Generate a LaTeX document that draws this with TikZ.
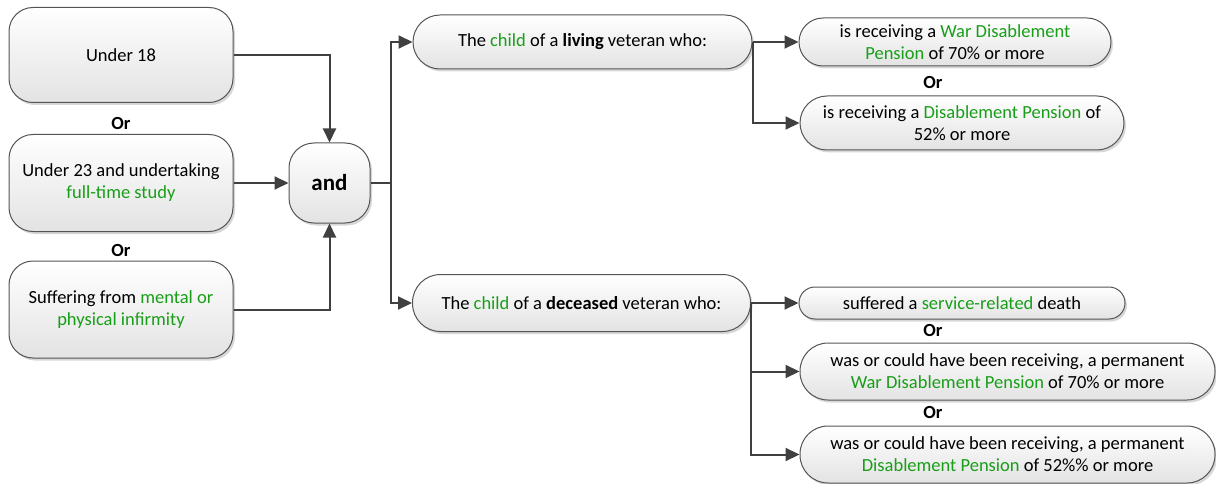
\documentclass[tikz,border=0pt]{standalone}
\usepackage{fontspec}
\setmainfont{Carlito}
\usetikzlibrary{arrows.meta,shadows}
\definecolor{grn}{RGB}{24,158,24}
\definecolor{arrcol}{RGB}{64,64,64}
\definecolor{edgecol}{RGB}{85,85,85}
\newcommand{\g}[1]{\textcolor{grn}{#1}}
\begin{document}
\begin{tikzpicture}[x=1pt,y=-1pt,
  box/.style={draw=edgecol, line width=1pt, top color=white, bottom color=black!11,
    align=center, inner sep=2pt, font=\fontsize{18.5}{22}\selectfont,
    drop shadow={shadow xshift=2pt, shadow yshift=-2.5pt, fill=black!35, opacity=0.45}},
  orlab/.style={font=\fontsize{18.5}{22}\selectfont\bfseries, inner sep=0pt},
  arr/.style={draw=arrcol, line width=2pt, -{Triangle[length=14pt,width=13pt]}},
  ln/.style={draw=arrcol, line width=2pt}
]
\useasboundingbox (0,0) rectangle (1216,484);
% left column
\node[box, minimum width=224pt, minimum height=95pt, rounded corners=24pt] (u18) at (121,55) {Under 18};
\node[orlab] (or1) at (121,123) {Or};
\node[box, minimum width=224pt, minimum height=97pt, rounded corners=24pt] (u23) at (121,183) {Under 23 and undertaking\\\g{full-time study}};
\node[orlab] (or2) at (121,250) {Or};
\node[box, minimum width=224pt, minimum height=97pt, rounded corners=24pt] (suf) at (121,309.5) {Suffering from \g{mental or}\\\g{physical infirmity}};
% and
\node[box, minimum width=81pt, minimum height=80pt, rounded corners=25pt, font=\fontsize{23}{26}\selectfont\bfseries] (and) at (329.5,183) {and};
% middle
\node[box, minimum width=339pt, minimum height=54pt, rounded corners=27pt] (liv) at (582.5,42) {The \g{child} of a \textbf{living} veteran who:};
\node[box, minimum width=338pt, minimum height=57pt, rounded corners=28pt] (dec) at (581.5,303) {The \g{child} of a \textbf{deceased} veteran who:};
% right top
\node[box, minimum width=312pt, minimum height=48pt, rounded corners=24pt] (A) at (955,42) {is receiving a \g{War Disablement}\\\g{Pension} of 70\% or more};
\node[orlab] (or3) at (933,82) {Or};
\node[box, minimum width=324pt, minimum height=54pt, rounded corners=27pt] (B) at (962,123) {is receiving a \g{Disablement Pension} of\\52\% or more};
% right bottom
\node[box, minimum width=326pt, minimum height=32pt, rounded corners=16pt] (C) at (962,303) {suffered a \g{service-related} death};
\node[orlab] (or4) at (933,330) {Or};
\node[box, minimum width=415pt, minimum height=57pt, rounded corners=28pt] (D) at (1007.5,371.5) {was or could have been receiving, a permanent\\\g{War Disablement Pension} of 70\% or more};
\node[orlab] (or5) at (933,412) {Or};
\node[box, minimum width=415pt, minimum height=57pt, rounded corners=28pt] (E) at (1007.5,454.5) {was or could have been receiving, a permanent\\\g{Disablement Pension} of 52\%\% or more};
% connectors
\draw[arr] (u18.east) -| (and.north);
\draw[arr] (u23.east) -- (and.west);
\draw[arr] (suf.east) -| (and.south);
\coordinate (j1) at (391,183);
\draw[ln] (and.east) -- (j1);
\draw[arr] (j1) |- (liv.west);
\draw[arr] (j1) |- (dec.west);
\draw[arr] (liv.east) -- (A.west);
\draw[arr] (liv.east) |- (B.west);
\draw[arr] (dec.east) -- (C.west);
\draw[arr] (dec.east) |- (D.west);
\draw[arr] (dec.east) |- (E.west);
\end{tikzpicture}
\end{document}
